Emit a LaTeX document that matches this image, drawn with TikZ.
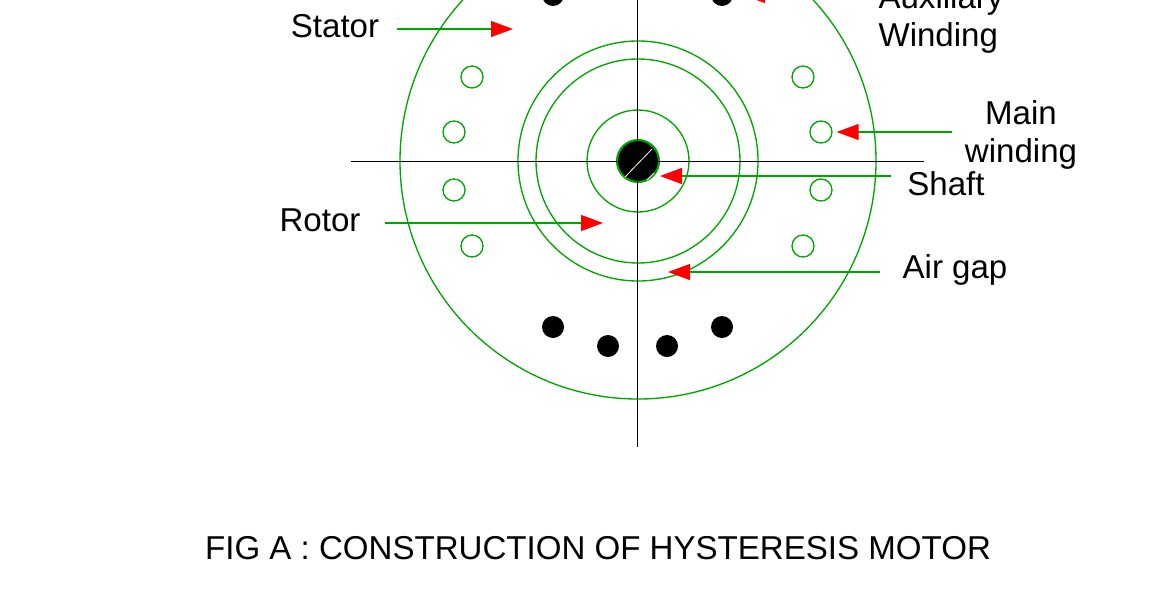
\documentclass[tikz,border=0pt]{standalone}
\usepackage{fontspec}
\setmainfont{Liberation Sans}
\usetikzlibrary{arrows.meta}
\begin{document}
\begin{tikzpicture}[x=0.75pt, y=-0.75pt, font=\fontsize{24.8pt}{28pt}\selectfont,
  gc/.style={draw=green!65!black, line width=1pt, circle, minimum size=#1*0.75pt, inner sep=0pt},
  slot/.style={gc=22},
  cond/.style={circle, fill=black, minimum size=16.5pt, inner sep=0pt},
  lbl/.style={align=center, inner ysep=0pt},
  a/.style={draw=green!65!black, line width=0.9pt, -{Triangle[length=16.5pt, width=12pt, color=red, fill=red]}},
  ax/.style={line width=0.7pt}]
\path[use as bounding box, clip] (0,0) rectangle (1170,615);
% circles
\node[gc=476] (stator) at (638,161) {};
\node[gc=240] (rotorout) at (638,161) {};
\node[gc=204] (rotorin) at (638,161) {};
\node[gc=102] (hub) at (638,161) {};
\node[gc=42, fill=black, line width=1.6pt] (shaft) at (638,161) {};
% main winding slots
\foreach \n/\x/\y in {m1/472/77, m2/454/132, m3/454/190, m4/472/246, m5/803/77, m6/821/132, m7/821/190, m8/803/246}
  \node[slot] (\n) at (\x,\y) {};
% auxiliary winding conductors
\foreach \n/\x/\y in {c1/553/327, c2/608/346, c3/667/346, c4/722/327, c5/553/-5, c6/722/-5}
  \node[cond] (\n) at (\x,\y) {};
% centre lines
\coordinate (hl) at (351,161);
\coordinate (hr) at (924,161);
\coordinate (vt) at (637.5,-40);
\coordinate (vb) at (637.5,447);
\draw[ax] (hl) -- (hr);
\draw[ax] (vt) -- (vb);
\draw[white, line width=0.6pt] (625,177) -- (652,149);
\draw[white, line width=0.6pt] (647,180) -- (654,173);
% labels
\node[lbl, inner xsep=13.5pt] (statorl) at (335,26) {Stator};
\node[lbl, inner xsep=18pt] (rotorl) at (320,220) {Rotor};
\node[lbl, inner xsep=9.5pt] (mainl) at (1021,135) {Main\\winding};
\node[lbl, inner xsep=12pt] (shaftl) at (946,184) {Shaft};
\node[lbl, inner xsep=17pt] (airl) at (955,270) {Air gap};
\node[lbl, inner xsep=12pt, align=left] (auxl) at (941,19) {Auxiliary\\Winding};
\node[lbl] (caption) at (598,548) {FIG A : CONSTRUCTION OF HYSTERESIS MOTOR};
% pointers
\coordinate (statorp) at (513,29);
\coordinate (rotorp) at (603,223);
\coordinate (shaftp) at (660,176);
\coordinate (airp) at (668,272);
\coordinate (auxp) at (743,-5);
\draw[a] (statorl.east |- statorp) -- (statorp);
\draw[a] (rotorl.east |- rotorp) -- (rotorp);
\draw[a, shorten >=3pt] (mainl.west |- m6.east) -- (m6.east);
\draw[a] (shaftl.west |- shaftp) -- (shaftp);
\draw[a] (airl.west |- airp) -- (airp);
\draw[a] (auxl.west |- auxp) -- (auxp);
\end{tikzpicture}
\end{document}
